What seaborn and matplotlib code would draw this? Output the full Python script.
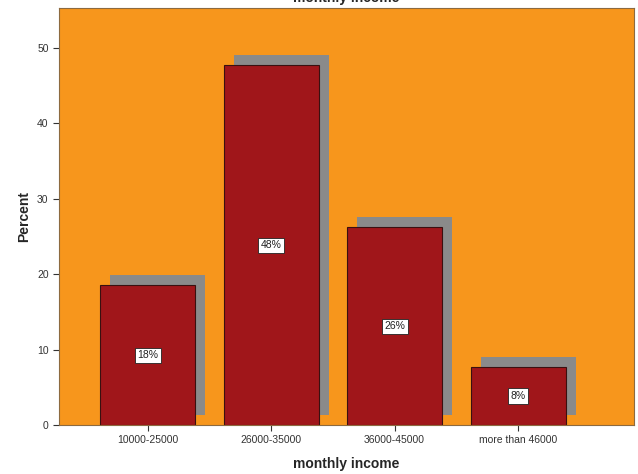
import matplotlib
matplotlib.use("Agg")
import matplotlib.pyplot as plt
import matplotlib.transforms as mtransforms
import seaborn as sns
import pandas as pd

categories = ["10000-25000", "26000-35000", "36000-45000", "more than 46000"]
percent = [18.5, 47.7, 26.2, 7.7]
labels = ["18%", "48%", "26%", "8%"]
yticks = [0, 10, 20, 30, 40, 50]

df = pd.DataFrame({"income": categories, "percent": percent})

sns.set_theme(style="white")
plt.rcParams["font.family"] = ["Liberation Sans", "DejaVu Sans"]

fig = plt.figure(figsize=(6.38, 4.74), dpi=100)
ax = fig.add_axes([59 / 638, 1 - 425 / 474, 575 / 638, 417 / 474])
ax.set_facecolor("#F7961C")

# drop shadow: same bars, shifted right and up
sns.barplot(data=df, x="income", y="percent", color="#8A8A8A", width=0.77,
            saturation=1, ax=ax, linewidth=0)
shift = mtransforms.ScaledTranslation(10 / 100, 10 / 100, fig.dpi_scale_trans)
for p in ax.patches:
    p.set_transform(ax.transData + shift)
    p.set_facecolor("#8A8A8A")

sns.barplot(data=df, x="income", y="percent", color="#A0161A", width=0.77,
            saturation=1, ax=ax, edgecolor="#3A1010", linewidth=0.8)

for i, (v, t) in enumerate(zip(percent, labels)):
    ax.text(i, v / 2, t, ha="center", va="center", fontsize=7.5, color="#222222",
            bbox=dict(boxstyle="square,pad=0.25", fc="white", ec="#222222", lw=0.6))

ax.set_xlim(-0.72, 3.94)
ax.set_ylim(0, 55.3)
ax.set_yticks(yticks)
ax.set_yticklabels([str(t) for t in yticks])
for s in ax.spines.values():
    s.set_color("#8C6A40")
    s.set_linewidth(0.8)
ax.tick_params(axis="both", which="both", direction="out", length=4, width=0.8,
               color="#333333", labelsize=7.5, labelcolor="#333333",
               left=True, bottom=True)
ax.set_xlabel("monthly income", fontsize=10, fontweight="bold", labelpad=8)
ax.set_ylabel("Percent", fontsize=10, fontweight="bold", labelpad=4)

# chart title sits above the frame, running off the top edge
fig.text((59 + 634) / 2 / 638, 1 - 2 / 474, "monthly income", ha="center",
         va="baseline", fontsize=10, fontweight="bold")

fig.savefig("out.png", dpi=100, facecolor="white")
